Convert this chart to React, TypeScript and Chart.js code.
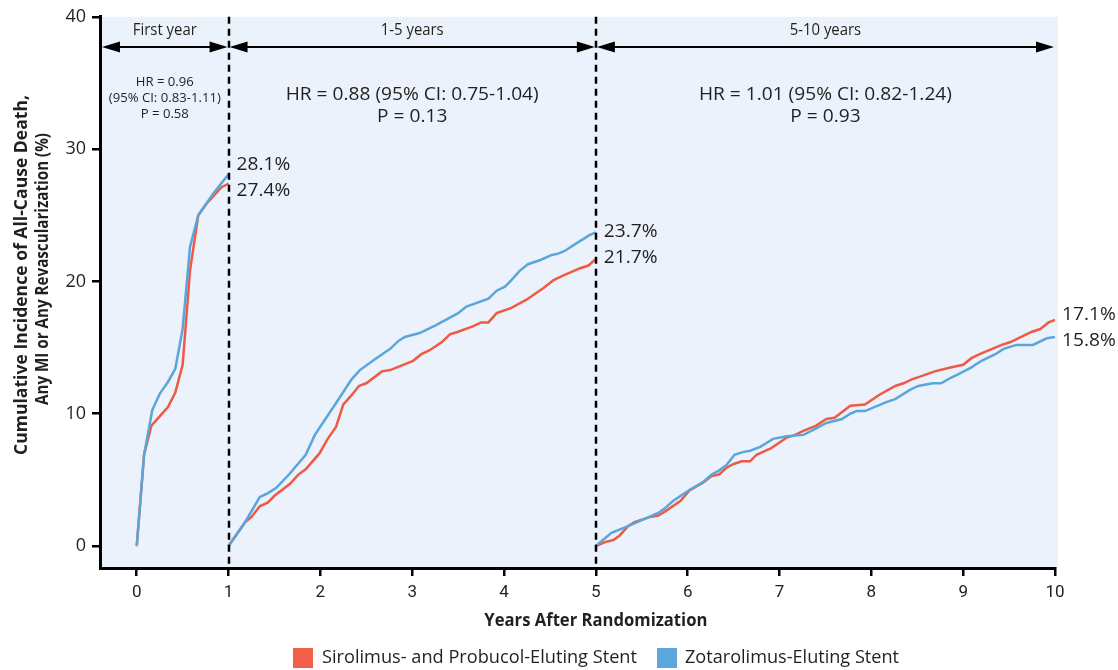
import React, { useEffect, useRef } from "react";
import { Chart, registerables } from "chart.js";
Chart.register(...registerables);

// ---- Data ----
const xTickValues = [0, 1, 2, 3, 4, 5, 6, 7, 8, 9, 10];
const yTickValues = [0, 10, 20, 30, 40];

const spesYear1X = [0, 0.08, 0.16, 0.25, 0.34, 0.42, 0.5, 0.58, 0.67, 0.75, 0.83, 0.92, 1.0];
const spesYear1Y = [0, 6.9, 9.1, 9.8, 10.5, 11.6, 13.7, 20.8, 25.0, 25.8, 26.4, 27.1, 27.4];
const zesYear1X = [0, 0.08, 0.17, 0.25, 0.34, 0.42, 0.5, 0.58, 0.67, 0.75, 0.83, 0.92, 1.0];
const zesYear1Y = [0, 6.9, 10.3, 11.5, 12.4, 13.4, 16.4, 22.6, 25.0, 25.8, 26.6, 27.4, 28.1];

const spesMidX = [1.0, 1.18, 1.25, 1.34, 1.43, 1.5, 1.67, 1.76, 1.84, 1.99, 2.08, 2.17, 2.25, 2.34, 2.42, 2.5, 2.67, 2.76, 3.01, 3.1, 3.19, 3.32, 3.41, 3.5, 3.66, 3.75, 3.83, 3.92, 4.08, 4.24, 4.43, 4.54, 4.66, 4.83, 4.92, 5.0];
const spesMidY = [0, 1.8, 2.2, 3.0, 3.3, 3.8, 4.7, 5.4, 5.8, 7.0, 8.1, 9.0, 10.7, 11.4, 12.1, 12.3, 13.2, 13.3, 14.0, 14.5, 14.8, 15.4, 16.0, 16.2, 16.6, 16.9, 16.9, 17.6, 18.0, 18.6, 19.5, 20.1, 20.5, 21.0, 21.2, 21.7];
const zesMidX = [1.0, 1.18, 1.34, 1.43, 1.52, 1.67, 1.84, 1.94, 2.16, 2.34, 2.43, 2.59, 2.76, 2.85, 2.92, 3.08, 3.17, 3.26, 3.5, 3.59, 3.83, 3.92, 4.01, 4.08, 4.17, 4.26, 4.39, 4.52, 4.59, 4.66, 4.77, 4.84, 4.93, 5.0];
const zesMidY = [0, 1.8, 3.7, 4.0, 4.4, 5.5, 6.9, 8.4, 10.7, 12.6, 13.3, 14.1, 14.9, 15.5, 15.8, 16.1, 16.4, 16.7, 17.6, 18.1, 18.7, 19.3, 19.6, 20.1, 20.8, 21.3, 21.6, 22.0, 22.1, 22.3, 22.8, 23.1, 23.5, 23.7];

const spesLateX = [5.0, 5.1, 5.19, 5.26, 5.35, 5.42, 5.59, 5.68, 5.75, 5.92, 6.02, 6.17, 6.26, 6.34, 6.42, 6.5, 6.59, 6.68, 6.75, 6.91, 7.08, 7.17, 7.26, 7.4, 7.51, 7.6, 7.77, 7.93, 8.08, 8.26, 8.35, 8.44, 8.53, 8.69, 8.86, 9.0, 9.09, 9.18, 9.42, 9.51, 9.66, 9.75, 9.84, 9.93, 10.0];
const spesLateY = [0, 0.3, 0.45, 0.8, 1.5, 1.8, 2.2, 2.3, 2.6, 3.4, 4.2, 4.8, 5.3, 5.4, 5.9, 6.2, 6.4, 6.4, 6.9, 7.4, 8.2, 8.4, 8.7, 9.1, 9.6, 9.7, 10.6, 10.7, 11.4, 12.1, 12.3, 12.6, 12.8, 13.2, 13.5, 13.7, 14.2, 14.5, 15.2, 15.4, 15.9, 16.2, 16.4, 16.9, 17.1];
const zesLateX = [5.0, 5.17, 5.35, 5.68, 5.75, 5.84, 6.01, 6.17, 6.26, 6.34, 6.42, 6.51, 6.6, 6.68, 6.79, 6.93, 7.08, 7.26, 7.4, 7.51, 7.68, 7.77, 7.84, 7.93, 8.17, 8.26, 8.42, 8.51, 8.67, 8.76, 8.86, 8.95, 9.09, 9.2, 9.35, 9.44, 9.58, 9.67, 9.76, 9.91, 10.0];
const zesLateY = [0, 1.0, 1.5, 2.5, 2.85, 3.4, 4.2, 4.85, 5.4, 5.7, 6.1, 6.9, 7.1, 7.2, 7.5, 8.1, 8.3, 8.4, 8.9, 9.3, 9.6, 10.0, 10.2, 10.2, 10.9, 11.1, 11.8, 12.1, 12.3, 12.3, 12.7, 13.0, 13.5, 14.0, 14.5, 14.9, 15.2, 15.2, 15.2, 15.7, 15.8];

const periodLabels = ["First year", "1-5 years", "5-10 years"];
const periodBounds = [[null, 1], [1, 5], [5, 10]];
const hrTexts = [
  ["HR = 0.96", "(95% CI: 0.83-1.11)", "P = 0.58"],
  ["HR = 0.88 (95% CI: 0.75-1.04)", "P = 0.13"],
  ["HR = 1.01 (95% CI: 0.82-1.24)", "P = 0.93"],
];
const endLabels = [
  ["28.1%", "27.4%"],
  ["23.7%", "21.7%"],
  ["17.1%", "15.8%"],
];
const seriesNames = ["Sirolimus- and Probucol-Eluting Stent", "Zotarolimus-Eluting Stent"];
const xTitle = "Years After Randomization";
const yTitle = ["Cumulative Incidence of All-Cause Death,", "Any MI or Any Revascularization (%)"];

const RED = "#EF5A45";
const BLUE = "#5AA6DB";
const LEG_RED = "#F2604A";
const LEG_BLUE = "#5BA7DC";
const TEXT = "#231F20";
const SANS = "'Open Sans', sans-serif";

const pts = (xs: number[], ys: number[]) => xs.map((x, i) => ({ x, y: ys[i] }));

// draws text with horizontal compression; returns drawn width and scale
function drawText(ctx: any, text: string, x: number, y: number, font: string, opts: { width?: number; scale?: number; align?: string; rotate?: boolean }) {
  ctx.font = font;
  const w = ctx.measureText(text).width;
  const s = opts.width ? opts.width / w : opts.scale ?? 1;
  ctx.save();
  ctx.translate(x, y);
  if (opts.rotate) ctx.rotate(-Math.PI / 2);
  ctx.scale(s, 1);
  ctx.textAlign = opts.align ?? "center";
  ctx.textBaseline = "middle";
  ctx.fillText(text, 0, 0);
  ctx.restore();
  return { width: w * s, scale: s };
}

function fitScale(ctx: any, text: string, font: string, width: number) {
  ctx.font = font;
  return width / ctx.measureText(text).width;
}

const decorPlugin = {
  id: "decor",
  beforeDraw(chart: any) {
    const { ctx, chartArea } = chart;
    ctx.save();
    ctx.fillStyle = "#EBF2FB";
    ctx.fillRect(chartArea.left, chartArea.top, chartArea.right - chartArea.left + 3, chartArea.bottom - chartArea.top);
    ctx.restore();
  },
  afterDatasetsDraw(chart: any) {
    const { ctx, chartArea, scales } = chart;
    const xs = scales.x;
    const ys = scales.y;
    ctx.save();
    // dashed lines
    ctx.strokeStyle = "#000";
    ctx.lineWidth = 2.5;
    ctx.setLineDash([7, 5]);
    [1, 5].forEach((v) => {
      const px = Math.round(xs.getPixelForValue(v));
      ctx.beginPath();
      ctx.moveTo(px, chartArea.top);
      ctx.lineTo(px, chartArea.bottom);
      ctx.stroke();
    });
    ctx.setLineDash([]);

    const periodFont = `500 16px ${SANS}`;
    const smallFont = `500 13px ${SANS}`;
    const bigFont = `500 18px ${SANS}`;
    const periodScale = fitScale(ctx, periodLabels[0], periodFont, 64);
    const smallScale = fitScale(ctx, hrTexts[0][1], smallFont, 112);
    const bigScale = fitScale(ctx, hrTexts[1][0], bigFont, 253);

    // arrows and labels
    const ay = 47;
    periodBounds.forEach((b, i) => {
      const x0 = b[0] === null ? chartArea.left + 1 : xs.getPixelForValue(b[0]);
      const x1 = xs.getPixelForValue(b[1] as number);
      ctx.strokeStyle = "#000";
      ctx.lineWidth = 2;
      ctx.beginPath();
      ctx.moveTo(x0 + 4, ay);
      ctx.lineTo(x1 - 4, ay);
      ctx.stroke();
      ctx.fillStyle = "#000";
      const hl = 18, hw = 5.5;
      ctx.beginPath();
      ctx.moveTo(x0 + 1, ay);
      ctx.lineTo(x0 + 1 + hl, ay - hw);
      ctx.lineTo(x0 + 1 + hl, ay + hw);
      ctx.closePath();
      ctx.fill();
      ctx.beginPath();
      ctx.moveTo(x1 - 1, ay);
      ctx.lineTo(x1 - 1 - hl, ay - hw);
      ctx.lineTo(x1 - 1 - hl, ay + hw);
      ctx.closePath();
      ctx.fill();

      const cx = (x0 + x1) / 2;
      ctx.fillStyle = TEXT;
      drawText(ctx, periodLabels[i], cx, 30, periodFont, { scale: periodScale });

      const lines = hrTexts[i];
      if (i === 0) {
        lines.forEach((t, k) => drawText(ctx, t, cx, 82 + k * 16, smallFont, { scale: smallScale }));
      } else {
        lines.forEach((t, k) => drawText(ctx, t, cx, 95 + k * 22, bigFont, { scale: bigScale }));
      }
    });

    // end labels
    const ends = [
      [1, zesYear1Y[zesYear1Y.length - 1], spesYear1Y[spesYear1Y.length - 1]],
      [5, zesMidY[zesMidY.length - 1], spesMidY[spesMidY.length - 1]],
      [10, spesLateY[spesLateY.length - 1], zesLateY[zesLateY.length - 1]],
    ];
    ctx.fillStyle = TEXT;
    ends.forEach((e, i) => {
      const px = xs.getPixelForValue(e[0]) + (i === 2 ? 7 : 8);
      const mid = (ys.getPixelForValue(e[1]) + ys.getPixelForValue(e[2])) / 2;
      drawText(ctx, endLabels[i][0], px, mid - 14, bigFont, { scale: bigScale, align: "left" });
      drawText(ctx, endLabels[i][1], px, mid + 12, bigFont, { scale: bigScale, align: "left" });
    });

    // axis titles
    drawText(ctx, xTitle, (xs.getPixelForValue(0) + xs.getPixelForValue(10)) / 2, 621, `bold 18px ${SANS}`, { width: 223 });
    drawText(ctx, yTitle[0], 22, 275, `bold 17px ${SANS}`, { width: 360, rotate: true });
    drawText(ctx, yTitle[1], 43, 269, `bold 17px ${SANS}`, { width: 272, rotate: true });

    // legend
    ctx.fillStyle = LEG_RED;
    ctx.fillRect(293, 648, 20, 20);
    ctx.fillStyle = TEXT;
    drawText(ctx, seriesNames[0], 322, 658, bigFont, { width: 315, align: "left" });
    ctx.fillStyle = LEG_BLUE;
    ctx.fillRect(657, 648, 20, 20);
    ctx.fillStyle = TEXT;
    drawText(ctx, seriesNames[1], 685, 658, bigFont, { width: 214, align: "left" });
    ctx.restore();
  },
};

export default function App() {
  const ref = useRef<HTMLCanvasElement>(null);
  useEffect(() => {
    if (!ref.current) return;
    const mk = (label: string, data: any, color: string) => ({
      label,
      data,
      borderColor: color,
      backgroundColor: color,
      borderWidth: 2.5,
      pointRadius: 0,
      tension: 0,
      fill: false,
    });
    const chart = new Chart(ref.current, {
      type: "line",
      data: {
        datasets: [
          mk(seriesNames[1], pts(zesYear1X, zesYear1Y), BLUE),
          mk(seriesNames[0], pts(spesYear1X, spesYear1Y), RED),
          mk(seriesNames[1], pts(zesMidX, zesMidY), BLUE),
          mk(seriesNames[0], pts(spesMidX, spesMidY), RED),
          mk(seriesNames[1], pts(zesLateX, zesLateY), BLUE),
          mk(seriesNames[0], pts(spesLateX, spesLateY), RED),
        ],
      },
      options: {
        animation: false,
        responsive: false,
        layout: { padding: { top: 16, right: 63, left: 0, bottom: 0 } },
        plugins: { legend: { display: false }, tooltip: { enabled: false } },
        scales: {
          x: {
            type: "linear",
            min: -0.4,
            max: 10,
            afterBuildTicks: (s: any) => {
              s.ticks = xTickValues.map((v) => ({ value: v }));
            },
            afterFit: (s: any) => {
              s.height = 102;
            },
            grid: { drawOnChartArea: false, drawTicks: true, tickLength: 8, color: "#000", lineWidth: 2.5 },
            border: { color: "#000", width: 3 },
            ticks: {
              font: { family: "Roboto, sans-serif", size: 17 },
              color: TEXT,
              padding: 7,
              maxRotation: 0,
              callback: (v: any) => String(v),
            },
          },
          y: {
            type: "linear",
            min: -1.66,
            max: 40,
            afterBuildTicks: (s: any) => {
              s.ticks = yTickValues.map((v) => ({ value: v }));
            },
            afterFit: (s: any) => {
              s.width = 100;
            },
            grid: { drawOnChartArea: false, drawTicks: true, tickLength: 8, color: "#000", lineWidth: 2.5 },
            border: { color: "#000", width: 3 },
            ticks: {
              font: { family: SANS, size: 18 },
              color: TEXT,
              padding: 6,
              callback: (v: any) => String(v),
            },
          },
        },
      },
      plugins: [decorPlugin],
    });
    return () => chart.destroy();
  }, []);
  return (
    <div style={{ position: "absolute", left: 0, top: 0, width: 1118, height: 670, background: "#fff" }}>
      <canvas ref={ref} width={1118} height={670} />
    </div>
  );
}
